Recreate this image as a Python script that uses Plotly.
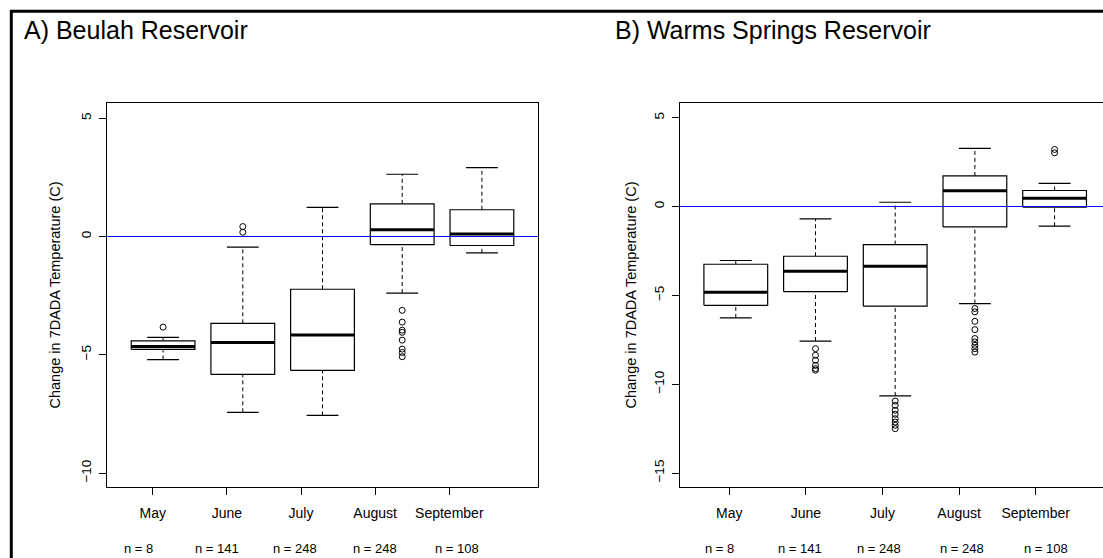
import plotly.graph_objects as go

# ---------------- data ----------------
MONTHS = ["May", "June", "July", "August", "September"]
N_COUNTS = [8, 141, 248, 248, 108]

BEULAH_LO = [-5.20, -7.43, -7.56, -2.39, -0.69]
BEULAH_Q1 = [-4.77, -5.83, -5.66, -0.34, -0.38]
BEULAH_MED = [-4.65, -4.48, -4.16, 0.28, 0.11]
BEULAH_Q3 = [-4.41, -3.67, -2.23, 1.38, 1.13]
BEULAH_HI = [-4.26, -0.45, 1.23, 2.63, 2.91]
BEULAH_OUT = [[-3.83], [0.42, 0.18], [],
              [-3.12, -3.62, -3.96, -4.05, -4.38, -4.76, -4.90, -5.08], []]

WS_LO = [-6.27, -7.57, -10.66, -5.46, -1.11]
WS_Q1 = [-5.56, -4.79, -5.61, -1.15, -0.03]
WS_MED = [-4.83, -3.64, -3.36, 0.88, 0.47]
WS_Q3 = [-3.25, -2.80, -2.14, 1.72, 0.90]
WS_HI = [-3.04, -0.70, 0.24, 3.27, 1.30]
WS_OUT = [[], [-8.00, -8.37, -8.65, -8.94, -9.12, -9.21],
          [-10.95, -11.19, -11.47, -11.69, -11.94, -12.13, -12.31, -12.50],
          [-5.74, -5.93, -6.46, -6.93, -7.43, -7.62, -7.81, -8.00, -8.19],
          [3.21, 3.02]]

Y_TICKS_A = [5, 0, -5, -10]
Y_TICKS_B = [5, 0, -5, -10, -15]

# ---------------- layout constants (pixels) ----------------
W, H = 1103, 558
FONT = "Liberation Sans, Arial, sans-serif"
BOX_HALF = 0.4
STAPLE_HALF = 0.2
PX_PER_UNIT = 79.7


def fx(p):
    return p / W


def fy(p):
    return 1 - p / H


Y_DOMAIN = [fy(487.3), fy(102.7)]
XA_DOMAIN = [fx(107.3), fx(537.7)]
XB_DOMAIN = [fx(680.0), 1.0]
XB_MAX = 0.3 + (W - 680.0) / PX_PER_UNIT

# month tick axis geometry: first tick pixel, spacing
MA_FIRST, MA_STEP = 152.7, 74.15
MB_FIRST, MB_STEP = 729.3, 76.6
# n-label centre pixels
NA_PX = [138, 217, 295, 375, 457]
NB_PX = [719, 799.5, 879, 962, 1046]


def panel_traces(lo, q1, med, q3, hi, out, xa, ya):
    pos = list(range(1, len(lo) + 1))
    traces = []
    wx, wy, sx, sy = [], [], [], []
    for p, a, b, c, d in zip(pos, lo, q1, q3, hi):
        wx += [p, p, None, p, p, None]
        wy += [a, b, None, c, d, None]
        sx += [p - STAPLE_HALF, p + STAPLE_HALF, None, p - STAPLE_HALF, p + STAPLE_HALF, None]
        sy += [a, a, None, d, d, None]
    traces.append(go.Scatter(x=wx, y=wy, mode="lines", xaxis=xa, yaxis=ya,
                             line=dict(color="black", width=1, dash="4px,3px"),
                             showlegend=False, hoverinfo="skip"))
    traces.append(go.Scatter(x=sx, y=sy, mode="lines", xaxis=xa, yaxis=ya,
                             line=dict(color="black", width=1.2),
                             showlegend=False, hoverinfo="skip"))
    bx, by = [], []
    for p, b, c in zip(pos, q1, q3):
        bx += [p - BOX_HALF, p + BOX_HALF, p + BOX_HALF, p - BOX_HALF, p - BOX_HALF, None]
        by += [b, b, c, c, b, None]
    traces.append(go.Scatter(x=bx, y=by, mode="lines", fill="toself", fillcolor="white",
                             xaxis=xa, yaxis=ya, line=dict(color="black", width=1.2),
                             showlegend=False, hoverinfo="skip"))
    mx, my = [], []
    for p, m in zip(pos, med):
        mx += [p - BOX_HALF, p + BOX_HALF, None]
        my += [m, m, None]
    traces.append(go.Scatter(x=mx, y=my, mode="lines", xaxis=xa, yaxis=ya,
                             line=dict(color="black", width=3),
                             showlegend=False, hoverinfo="skip"))
    ox, oy = [], []
    for p, vals in zip(pos, out):
        ox += [p] * len(vals)
        oy += vals
    traces.append(go.Scatter(x=ox, y=oy, mode="markers", xaxis=xa, yaxis=ya,
                             marker=dict(symbol="circle-open", size=6,
                                         color="black", line=dict(width=1)),
                             showlegend=False, hoverinfo="skip"))
    return traces


fig = go.Figure()
for t in panel_traces(BEULAH_LO, BEULAH_Q1, BEULAH_MED, BEULAH_Q3, BEULAH_HI, BEULAH_OUT, "x", "y"):
    fig.add_trace(t)
for t in panel_traces(WS_LO, WS_Q1, WS_MED, WS_Q3, WS_HI, WS_OUT, "x2", "y2"):
    fig.add_trace(t)
# invisible traces to carry the month tick axes
fig.add_trace(go.Scatter(x=MONTHS, y=[None] * len(MONTHS), xaxis="x3", yaxis="y",
                         mode="markers", showlegend=False, hoverinfo="skip"))
fig.add_trace(go.Scatter(x=MONTHS, y=[None] * len(MONTHS), xaxis="x4", yaxis="y2",
                         mode="markers", showlegend=False, hoverinfo="skip"))

tickfont = dict(family=FONT, size=14, color="black")
base_x = dict(showgrid=False, zeroline=False, showticklabels=False, ticks="",
              showline=True, linecolor="black", linewidth=1, mirror=True)
yax = dict(showgrid=False, zeroline=False, showline=True, linecolor="black", linewidth=1,
           ticks="outside", ticklen=7, tickcolor="black", tickwidth=1, tickangle=-90,
           tickfont=dict(family=FONT, size=13.5, color="black"), domain=Y_DOMAIN,
           ticklabelstandoff=3,
           title=dict(text="Change in 7DADA Temperature (C)",
                      font=dict(family=FONT, size=14.5, color="black"), standoff=14))


def month_axis(first, step, left_px, right_px, over):
    r0 = -(first - left_px) / step
    r1 = r0 + (right_px - left_px) / step
    return dict(overlaying=over, anchor="y" if over == "x" else "y2", side="bottom",
                type="category", categoryorder="array", categoryarray=MONTHS,
                range=[r0, r1], showgrid=False, zeroline=False, showline=False,
                ticks="outside", ticklen=7, tickcolor="black", tickwidth=1,
                tickfont=tickfont, ticklabelstandoff=6)


fig.update_layout(
    width=W, height=H, margin=dict(l=0, r=0, t=0, b=0),
    paper_bgcolor="white", plot_bgcolor="white",
    xaxis=dict(base_x, domain=XA_DOMAIN, range=[0.3, 5.7], anchor="y"),
    xaxis2=dict(base_x, domain=XB_DOMAIN, range=[0.3, XB_MAX], anchor="y2"),
    xaxis3=month_axis(MA_FIRST, MA_STEP, 107.3, 537.7, "x"),
    xaxis4=month_axis(MB_FIRST, MB_STEP, 680.0, 680.0 + (XB_MAX - 0.3) * PX_PER_UNIT, "x2"),
    yaxis=dict(yax, range=[-10.6, 5.655], tickvals=Y_TICKS_A, mirror=True, anchor="x"),
    yaxis2=dict(yax, range=[-15.8, 5.84], tickvals=Y_TICKS_B, mirror=False, anchor="x2",
                title=dict(yax["title"], standoff=11)),
)

# zero reference lines
for xr, yr in (("x domain", "y"), ("x2 domain", "y2")):
    fig.add_shape(type="line", xref=xr, yref=yr, x0=0, x1=1, y0=0, y1=0,
                  line=dict(color="#0000ff", width=1))

# outer frame (top and left edges)
fig.add_shape(type="line", xref="paper", yref="paper", x0=fx(10), x1=1.0,
              y0=fy(11.3), y1=fy(11.3), line=dict(color="black", width=3))
fig.add_shape(type="line", xref="paper", yref="paper", x0=fx(11.3), x1=fx(11.3),
              y0=fy(10), y1=0, line=dict(color="black", width=3))

# panel titles
fig.add_annotation(text="A) Beulah Reservoir", xref="paper", yref="paper",
                   x=fx(22), y=fy(30), xanchor="left", yanchor="middle", showarrow=False,
                   font=dict(family=FONT, size=25, color="black"))
fig.add_annotation(text="B) Warms Springs Reservoir", xref="paper", yref="paper",
                   x=fx(613), y=fy(30), xanchor="left", yanchor="middle", showarrow=False,
                   font=dict(family=FONT, size=25, color="black"))

# n = ... labels
for pxs in (NA_PX, NB_PX):
    for p, n in zip(pxs, N_COUNTS):
        fig.add_annotation(text=f"n = {n}", xref="paper", yref="paper",
                           x=fx(p), y=fy(548), xanchor="center", yanchor="middle",
                           showarrow=False, font=dict(family=FONT, size=13, color="black"))

fig.write_html(
    "out.html",
    config={"displayModeBar": False, "staticPlot": True},
    post_script="document.body.style.margin='0';document.body.style.overflow='hidden';",
)
